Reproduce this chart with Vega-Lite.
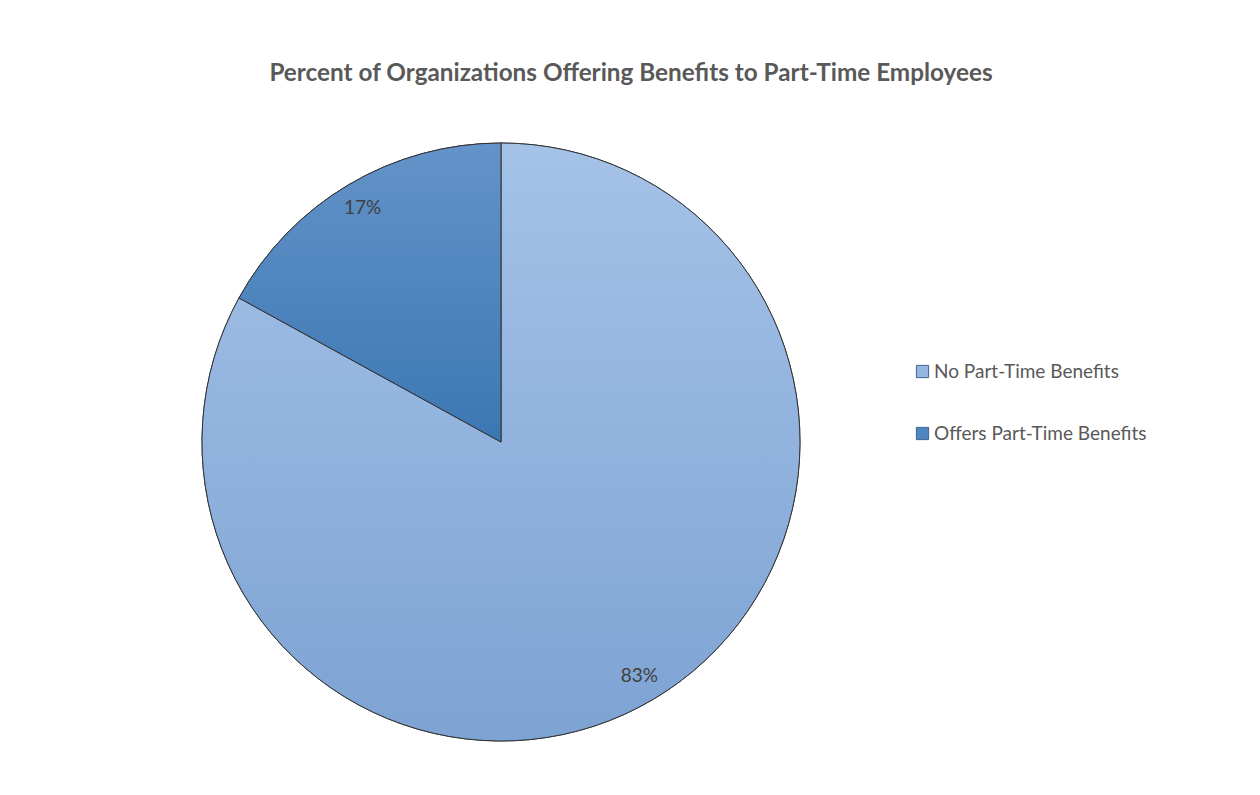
{
  "$schema": "https://vega.github.io/schema/vega-lite/v6.json",
  "autosize": {"type": "none"},
  "width": 1002,
  "height": 684,
  "padding": {"left": 0, "top": 100, "right": 258, "bottom": 11},
  "background": "white",
  "title": {
    "text": "Percent of Organizations Offering Benefits to Part-Time Employees",
    "font": "Lato",
    "fontSize": 24.3,
    "fontWeight": "bold",
    "color": "#595959",
    "anchor": "middle",
    "dx": 130,
    "offset": 14
  },
  "data": {
    "values": [
      {"category": "No Part-Time Benefits", "percent": 83, "label": "83%"},
      {"category": "Offers Part-Time Benefits", "percent": 17, "label": "17%"}
    ]
  },
  "encoding": {
    "theta": {"field": "percent", "type": "quantitative", "stack": true},
    "order": {"field": "category", "sort": "ascending"}
  },
  "layer": [
    {
      "mark": {"type": "arc", "outerRadius": 299, "stroke": "#3a3a3a", "strokeWidth": 1},
      "encoding": {
        "color": {
          "field": "category",
          "type": "nominal",
          "scale": {"domain": ["No Part-Time Benefits", "Offers Part-Time Benefits"], "range": ["#94b6e0", "#4f86c0"]},
          "legend": {
            "title": null,
            "orient": "none",
            "legendX": 913,
            "legendY": 262,
            "symbolType": "square",
            "symbolSize": 150,
            "symbolStrokeColor": "#3f6592",
            "symbolStrokeWidth": 1,
            "labelFont": "Lato",
            "labelFontSize": 19,
            "labelColor": "#595959",
            "labelOffset": 2,
            "labelLimit": 0,
            "rowPadding": 42
          }
        }
      }
    },
    {
      "mark": {"type": "arc", "outerRadius": 299, "stroke": "#333333", "strokeWidth": 1},
      "encoding": {
        "fill": {
          "condition": {
            "test": "datum.category === 'Offers Part-Time Benefits'",
            "value": {"gradient": "linear", "x1": 0, "y1": 0, "x2": 0, "y2": 1,
              "stops": [{"offset": 0, "color": "#6393c8"}, {"offset": 1, "color": "#3c77b3"}]}
          },
          "value": {"gradient": "linear", "x1": 0, "y1": 0, "x2": 0, "y2": 1,
            "stops": [{"offset": 0, "color": "#a5c2e8"}, {"offset": 1, "color": "#7da3d3"}]}
        }
      }
    },
    {
      "mark": {"type": "text", "radius": 272, "font": "Lato", "fontSize": 19, "color": "#404040"},
      "encoding": {"text": {"field": "label"}}
    }
  ],
  "config": {"view": {"stroke": null}}
}
